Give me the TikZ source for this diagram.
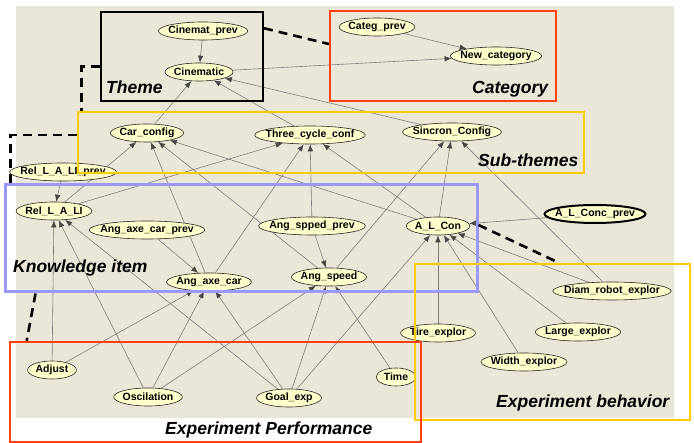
\documentclass[tikz,border=0pt]{standalone}
\usepackage{fontspec}
\setmainfont{Liberation Sans}
\usetikzlibrary{shapes.geometric,arrows.meta,calc,backgrounds}
\definecolor{bnback}{RGB}{234,231,216}
\definecolor{bnfill}{RGB}{255,255,204}
\definecolor{bnred}{RGB}{255,64,16}
\definecolor{bngold}{RGB}{255,204,0}
\definecolor{bnblue}{RGB}{153,153,255}
\definecolor{bnedge}{RGB}{125,125,125}
\definecolor{bntip}{RGB}{70,70,70}
\newcommand{\bnl}[1]{\makebox[0.78\width]{#1}}
\tikzset{
  bn/.style={ellipse, draw=black!85, fill=bnfill, line width=0.6pt, inner xsep=4.5pt, inner ysep=0pt,
    minimum height=18pt, font=\fontsize{10.5}{12}\selectfont\bfseries},
  dep/.style={draw=bnedge, line width=0.6pt, -{Latex[length=7pt,width=5.5pt,color=bntip]}},
  frame/.style={rectangle, inner sep=0pt, line width=2.3pt},
  link/.style={draw=black, line width=2.6pt, dash pattern=on 9pt off 6pt},
  flabel/.style={font=\fontsize{17.5}{20}\selectfont\bfseries\itshape, inner sep=0pt, anchor=base west}
}
\begin{document}
\begin{tikzpicture}[x=1pt,y=-1pt]
  \useasboundingbox (0,0) rectangle (694,443);
  % variables
  \node[bn] (cinprev) at (203,31) {\bnl{Cinemat\_prev}};
  \node[bn] (cin) at (199,72) {\bnl{Cinematic}};
  \node[bn] (categprev) at (377,27) {\bnl{Categ\_prev}};
  \node[bn] (newcat) at (496,56) {\bnl{New\_category}};
  \node[bn] (carcfg) at (147,133) {\bnl{Car\_config}};
  \node[bn] (three) at (310,135) {\bnl{Three\_cycle\_conf}};
  \node[bn] (sincron) at (452,132) {\bnl{Sincron\_Config}};
  \node[bn] (relprev) at (63,172) {\bnl{Rel\_L\_A\_LI\_prev}};
  \node[bn] (rel) at (54,211) {\bnl{Rel\_L\_A\_LI}};
  \node[bn] (axeprev) at (147,230) {\bnl{Ang\_axe\_car\_prev}};
  \node[bn] (axecar) at (209,282) {\bnl{Ang\_axe\_car}};
  \node[bn] (spedprev) at (312,226) {\bnl{Ang\_spped\_prev}};
  \node[bn] (speed) at (329,277) {\bnl{Ang\_speed}};
  \node[bn] (alcon) at (438,226) {\bnl{A\_L\_Con}};
  \node[bn, draw=black, line width=2pt] (concprev) at (595,214) {\bnl{A\_L\_Conc\_prev}};
  \node[bn] (diam) at (612,291) {\bnl{Diam\_robot\_explor}};
  \node[bn] (tire) at (438,333) {\bnl{Tire\_explor}};
  \node[bn] (large) at (578,332) {\bnl{Large\_explor}};
  \node[bn] (widthexp) at (524,362) {\bnl{Width\_explor}};
  \node[bn] (timen) at (396,377) {\bnl{Time}};
  \node[bn] (adjust) at (52,370) {\bnl{Adjust}};
  \node[bn] (osc) at (148,397) {\bnl{Oscilation}};
  \node[bn] (goal) at (289,398) {\bnl{Goal\_exp}};

  % arcs
  \begin{scope}[on background layer]
    \fill[bnback] (16,6) rectangle (674,418);
    \draw[dep] (cinprev) -- (cin);
    \foreach \a in {carcfg,three,sincron} \draw[dep] (\a) -- (cin);
    \foreach \a in {cin,categprev} \draw[dep] (\a) -- (newcat);
    \foreach \a in {rel,axecar,speed,alcon} \draw[dep] (\a) -- (carcfg);
    \foreach \a in {rel,axecar,spedprev,alcon} \draw[dep] (\a) -- (three);
    \foreach \a in {speed,alcon,diam} \draw[dep] (\a) -- (sincron);
    \foreach \a in {relprev,adjust,osc,goal} \draw[dep] (\a) -- (rel);
    \foreach \a in {axeprev,adjust,osc,goal} \draw[dep] (\a) -- (axecar);
    \foreach \a in {spedprev,osc,goal,timen} \draw[dep] (\a) -- (speed);
    \foreach \a in {goal,tire,widthexp,large,diam,concprev} \draw[dep] (\a) -- (alcon);
  \end{scope}

  % groups
  \node[frame, draw=black, line width=2pt, minimum width=162pt, minimum height=89pt] (theme) at (182,56.5) {};
  \node[frame, draw=bnred, minimum width=226pt, minimum height=90pt] (categ) at (443,56) {};
  \node[frame, draw=bngold, line width=2.6pt, minimum width=506pt, minimum height=61pt] (sub) at (331,142.5) {};
  \node[frame, draw=bnblue, line width=3pt, minimum width=472pt, minimum height=107pt] (know) at (241,238.5) {};
  \node[frame, draw=bngold, line width=2.6pt, minimum width=275pt, minimum height=156pt] (behav) at (552.5,342) {};
  \node[frame, draw=bnred, line width=2.6pt, minimum width=411pt, minimum height=100pt] (perf) at (215.5,392) {};

  \node[flabel] (themelbl) at (106,94) {Theme};
  \node[flabel] (categlbl) at (472,94) {Category};
  \node[flabel] (sublbl) at (478,167) {Sub-themes};
  \node[flabel] (knowlbl) at (13,273) {Knowledge item};
  \node[flabel] (behavlbl) at (496,408) {Experiment behavior};
  \node[flabel] (perflbl) at (165,435) {Experiment Performance};

  % links between groups
  \draw[link] (theme.19) -- (categ.174);
  \draw[link] (theme.187) -| ($(sub.north west)+(5,0)$);
  \draw[link] ($(sub.west)+(0,-7.5)$) -| ($(know.north west)+(7,0)$);
  \draw[link] ($(know.south west)+(32,0)$) -- ($(perf.north west)+(18,0)$);
  \draw[link] ($(know.east)+(0,-13.5)$) -- ($(behav.north west)+(145,0)$);
\end{tikzpicture}
\end{document}
